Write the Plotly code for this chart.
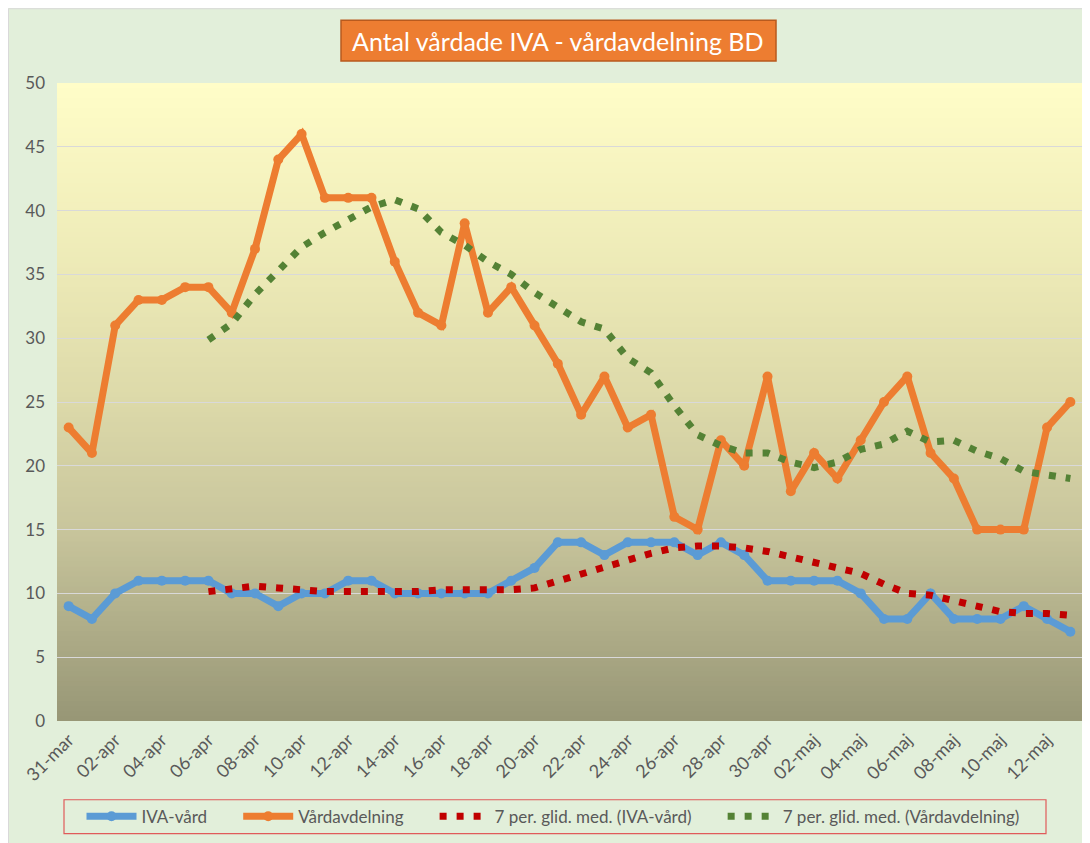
import plotly.graph_objects as go

# ---------------- data ----------------
dates = ["31-mar"] + [f"{d:02d}-apr" for d in range(1, 31)] + [f"{d:02d}-maj" for d in range(1, 14)]

iva = [9, 8, 10, 11, 11, 11, 11, 10, 10, 9, 10, 10, 11, 11, 10, 10, 10, 10, 10, 11, 12,
       14, 14, 13, 14, 14, 14, 13, 14, 13, 11, 11, 11, 11, 10, 8, 8, 10, 8, 8, 8, 9, 8, 7]

vard = [23, 21, 31, 33, 33, 34, 34, 32, 37, 44, 46, 41, 41, 41, 36, 32, 31, 39, 32, 34, 31,
        28, 24, 27, 23, 24, 16, 15, 22, 20, 27, 18, 21, 19, 22, 25, 27, 21, 19, 15, 15, 15, 23, 25]

# 7-period moving averages (first 6 days empty)
iva_ma = [None] * 6 + [10.14, 10.29, 10.57, 10.43, 10.29, 10.14, 10.14, 10.14, 10.14, 10.14,
                       10.29, 10.29, 10.29, 10.29, 10.43, 11.0, 11.57, 12.0, 12.57, 13.14,
                       13.57, 13.71, 13.71, 13.57, 13.29, 12.86, 12.43, 12.0, 11.57, 10.71,
                       10.0, 9.86, 9.43, 9.0, 8.57, 8.43, 8.43, 8.29]

vard_ma = [None] * 6 + [29.86, 31.14, 33.43, 35.29, 37.14, 38.29, 39.29, 40.29, 40.86, 40.14,
                        38.29, 37.29, 36.0, 35.0, 33.57, 32.43, 31.29, 30.71, 28.43, 27.29,
                        24.71, 22.43, 21.57, 21.0, 21.0, 20.29, 19.86, 20.29, 21.29, 21.71,
                        22.71, 21.86, 22.0, 21.14, 20.57, 19.57, 19.29, 19.0]

tick_labels = dates[::2]
y_ticks = [0, 5, 10, 15, 20, 25, 30, 35, 40, 45, 50]

title_text = "Antal vårdade IVA - vårdavdelning BD"
names = ["IVA-vård", "Vårdavdelning", "7 per. glid. med. (IVA-vård)", "7 per. glid. med. (Vårdavdelning)"]

# ---------------- layout geometry (figure px; page is offset by 8px body margin) ----------------
W, H = 1082, 835
L, R, T, B = 49, 8, 75, 120
PW = W - L - R
PH = H - T - B


def px_x(px):
    return (px - L) / PW


def px_y(py):
    return (H - B - py) / PH


FONT = "Lato, 'Open Sans', sans-serif"
GRAY = "#595959"
PAD = "\u00a0" * 6

fig = go.Figure()

fig.add_trace(go.Scatter(x=dates, y=iva, name=names[0] + PAD, mode="lines+markers",
                         line=dict(color="#5B9BD5", width=7),
                         marker=dict(color="#5B9BD5", size=10)))
fig.add_trace(go.Scatter(x=dates, y=vard, name=names[1] + PAD, mode="lines+markers",
                         line=dict(color="#ED7D31", width=7),
                         marker=dict(color="#ED7D31", size=10)))
fig.add_trace(go.Scatter(x=dates, y=iva_ma, name=names[2] + PAD, mode="lines",
                         line=dict(color="#C00000", width=7, dash="7px,10px")))
fig.add_trace(go.Scatter(x=dates, y=vard_ma, name=names[3], mode="lines",
                         line=dict(color="#548235", width=7, dash="7px,10px")))

# ---------------- backgrounds ----------------
shapes = []
shapes.append(dict(type="rect", xref="paper", yref="paper", layer="below",
                   x0=px_x(0.5), x1=px_x(W + 5), y0=px_y(H + 5), y1=px_y(0.5),
                   fillcolor="#E2EFDA", line=dict(color="#D9D9D9", width=1)))

stops = [(0.0, (151, 150, 118)), (0.3, (200, 197, 156)), (0.5, (220, 217, 169)),
         (0.7, (236, 233, 182)), (1.0, (255, 253, 200))]


def grad(t):
    for (t0, c0), (t1, c1) in zip(stops[:-1], stops[1:]):
        if t0 <= t <= t1:
            f = (t - t0) / (t1 - t0)
            return tuple(round(a + (b - a) * f) for a, b in zip(c0, c1))
    return stops[-1][1]


N = 128
for i in range(N):
    t = (i + 0.5) / N
    c = grad(t)
    shapes.append(dict(type="rect", xref="paper", yref="paper", layer="below",
                       x0=0, x1=1, y0=i / N, y1=min(1, (i + 1) / N + 0.002),
                       fillcolor=f"rgb{c}", line=dict(width=0)))

# title box
shapes.append(dict(type="rect", xref="paper", yref="paper", layer="above",
                   x0=px_x(333), x1=px_x(768), y0=px_y(53), y1=px_y(12),
                   fillcolor="#ED7D31", line=dict(color="#B85A1E", width=1.5)))
# legend box
shapes.append(dict(type="rect", xref="paper", yref="paper", layer="above",
                   x0=px_x(56), x1=px_x(1038), y0=px_y(828), y1=px_y(794),
                   fillcolor="rgba(0,0,0,0)", line=dict(color="#E05A5A", width=1.2)))

annotations = [dict(text=title_text, xref="paper", yref="paper",
                    x=px_x(550), y=px_y(33), xanchor="center", yanchor="middle",
                    showarrow=False, font=dict(family=FONT, size=25, color="white"))]

fig.update_layout(
    width=W, height=H,
    margin=dict(l=L, r=R, t=T, b=B),
    paper_bgcolor="#E2EFDA",
    plot_bgcolor="rgba(0,0,0,0)",
    shapes=shapes,
    annotations=annotations,
    font=dict(family=FONT, color=GRAY),
    showlegend=True,
    legend=dict(orientation="h", x=px_x(545), y=px_y(811), xanchor="center", yanchor="middle",
                bgcolor="rgba(0,0,0,0)", borderwidth=0,
                font=dict(family=FONT, size=17, color=GRAY),
                itemwidth=50),
)

fig.update_xaxes(type="category", categoryorder="array", categoryarray=dates,
                 range=[-0.5, len(dates) - 0.5],
                 tickmode="array", tickvals=tick_labels, ticktext=tick_labels,
                 tickangle=-45, tickfont=dict(family=FONT, size=18, color=GRAY),
                 ticklabelstandoff=4,
                 showgrid=False, showline=False, zeroline=False, ticks="")

fig.update_yaxes(range=[0, 50], tickmode="array", tickvals=y_ticks,
                 tickfont=dict(family=FONT, size=17, color=GRAY),
                 showgrid=True, gridcolor="#D9D9D9", gridwidth=1.3,
                 showline=False, zeroline=False, ticks="", ticklabelstandoff=11)

fig.write_html("out.html")
